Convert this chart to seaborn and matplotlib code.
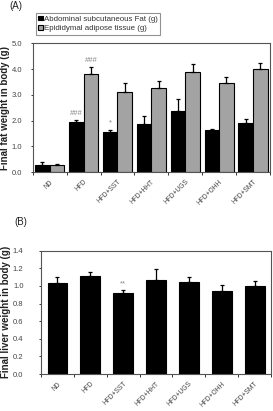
import numpy as np
import pandas as pd
import matplotlib
matplotlib.use("Agg")
from matplotlib import pyplot as plt
import seaborn as sns

groups = ['ND', 'HFD', 'HFD+SST', 'HFD+HHT', 'HFD+UGS', 'HFD+OHH', 'HFD+SMT']
abd = [0.29, 1.94, 1.55, 1.88, 2.39, 1.64, 1.92]
abd_err = [0.09, 0.10, 0.10, 0.29, 0.43, 0.05, 0.13]
epi = [0.27, 3.82, 3.12, 3.27, 3.87, 3.45, 3.99]
epi_err = [0.04, 0.27, 0.32, 0.25, 0.31, 0.24, 0.26]
abd_sig = ['', '###', '*', '', '', '', '']
epi_sig = ['', '###', '', '', '', '', '']
liver = [1.03, 1.116, 0.923, 1.067, 1.04, 0.946, 0.999]
liver_err = [0.075, 0.038, 0.027, 0.121, 0.057, 0.064, 0.057]
liver_sig = ['', '', '**', '', '', '', '']
series = ['Abdominal subcutaneous Fat (g)', 'Epididymal adipose tissue (g)']

sns.set_style("white")
plt.rcParams['font.family'] = ['Liberation Sans', 'DejaVu Sans']

fat = pd.DataFrame({
    'group': groups * 2,
    'tissue': [series[0]] * 7 + [series[1]] * 7,
    'weight': abd + epi,
})
liv = pd.DataFrame({'group': groups, 'weight': liver})

fig = plt.figure(figsize=(2.73, 4.11), dpi=100)
ax1 = fig.add_axes([0.120, 0.5815, 0.869, 0.313])
ax2 = fig.add_axes([0.150, 0.090, 0.843, 0.300])

sns.barplot(data=fat, x='group', y='weight', hue='tissue', order=groups,
            hue_order=series, palette=['black', '#a3a3a3'], width=0.86,
            edgecolor='black', linewidth=0.8, errorbar=None, ax=ax1)
sns.barplot(data=liv, x='group', y='weight', order=groups, color='black',
            width=0.6, edgecolor='black', linewidth=0.8, errorbar=None, ax=ax2)


def add_err(ax, cont, errs, sigs):
    xs = [b.get_x() + b.get_width() / 2 for b in cont]
    hs = [b.get_height() for b in cont]
    ax.errorbar(xs, hs, yerr=[np.zeros(len(errs)), errs], fmt='none',
                ecolor='black', elinewidth=0.9, capsize=1.6, capthick=0.9)
    for x, h, e, s in zip(xs, hs, errs, sigs):
        if s:
            ax.annotate(s, (x, h + e), xytext=(0, 2), textcoords='offset points',
                        ha='center', va='bottom', fontsize=5.5, color='#888888')


add_err(ax1, ax1.containers[0], abd_err, abd_sig)
add_err(ax1, ax1.containers[1], epi_err, epi_sig)
add_err(ax2, ax2.containers[0], liver_err, liver_sig)

panels = [(ax1, 5.0, 1.0, 'Final fat weight in body (g)', 6.0, -0.094),
          (ax2, 1.4, 0.2, 'Final liver weight in body (g)', 10.8, -0.131)]
for ax, ymax, step, lab, ypad, labx in panels:
    ax.set_ylim(0, ymax)
    ax.set_xlim(-0.5, 6.5)
    ticks = np.arange(0, ymax + 0.01, step)
    ax.set_yticks(ticks)
    ax.set_yticklabels(['%.1f' % v for v in ticks])
    ax.set_xticks(range(len(groups)))
    ax.set_xticklabels(groups, rotation=45, ha='right', rotation_mode='anchor')
    ax.set_xticks(np.arange(-0.5, 7, 1.0), minor=True)
    ax.tick_params(axis='x', which='major', length=0, labelsize=4.8,
                   labelcolor='#444444', pad=4.5)
    ax.tick_params(axis='x', which='minor', length=2, width=0.7, direction='out',
                   bottom=True, color='#333333')
    ax.tick_params(axis='y', length=1.7, width=0.7, direction='out', left=True,
                   labelsize=5.5, labelcolor='#444444', pad=ypad, color='#333333')
    ax.set_xlabel('')
    ax.set_ylabel(lab, fontsize=7.0, fontweight='bold', color='#222222')
    ax.yaxis.set_label_coords(labx, 0.5)
    for sp in ax.spines.values():
        sp.set_visible(True)
        sp.set_color('#555555')
        sp.set_linewidth(0.8)

leg = ax1.legend(loc='upper left', bbox_to_anchor=(0.013, 1.235), fontsize=5.7,
                 frameon=True, fancybox=False, borderpad=0.3, labelspacing=0.3,
                 handlelength=0.55, handleheight=0.55, handletextpad=0.2,
                 borderaxespad=0)
leg.get_frame().set_edgecolor('#777777')
leg.get_frame().set_linewidth(0.8)
for t in leg.get_texts():
    t.set_color('#333333')

fig.text(0.036, 0.997, '(A)', fontsize=7, va='top', ha='left', color='#222222')
fig.text(0.053, 0.472, '(B)', fontsize=7, va='top', ha='left', color='#222222')

fig.savefig('out.png', dpi=100)
